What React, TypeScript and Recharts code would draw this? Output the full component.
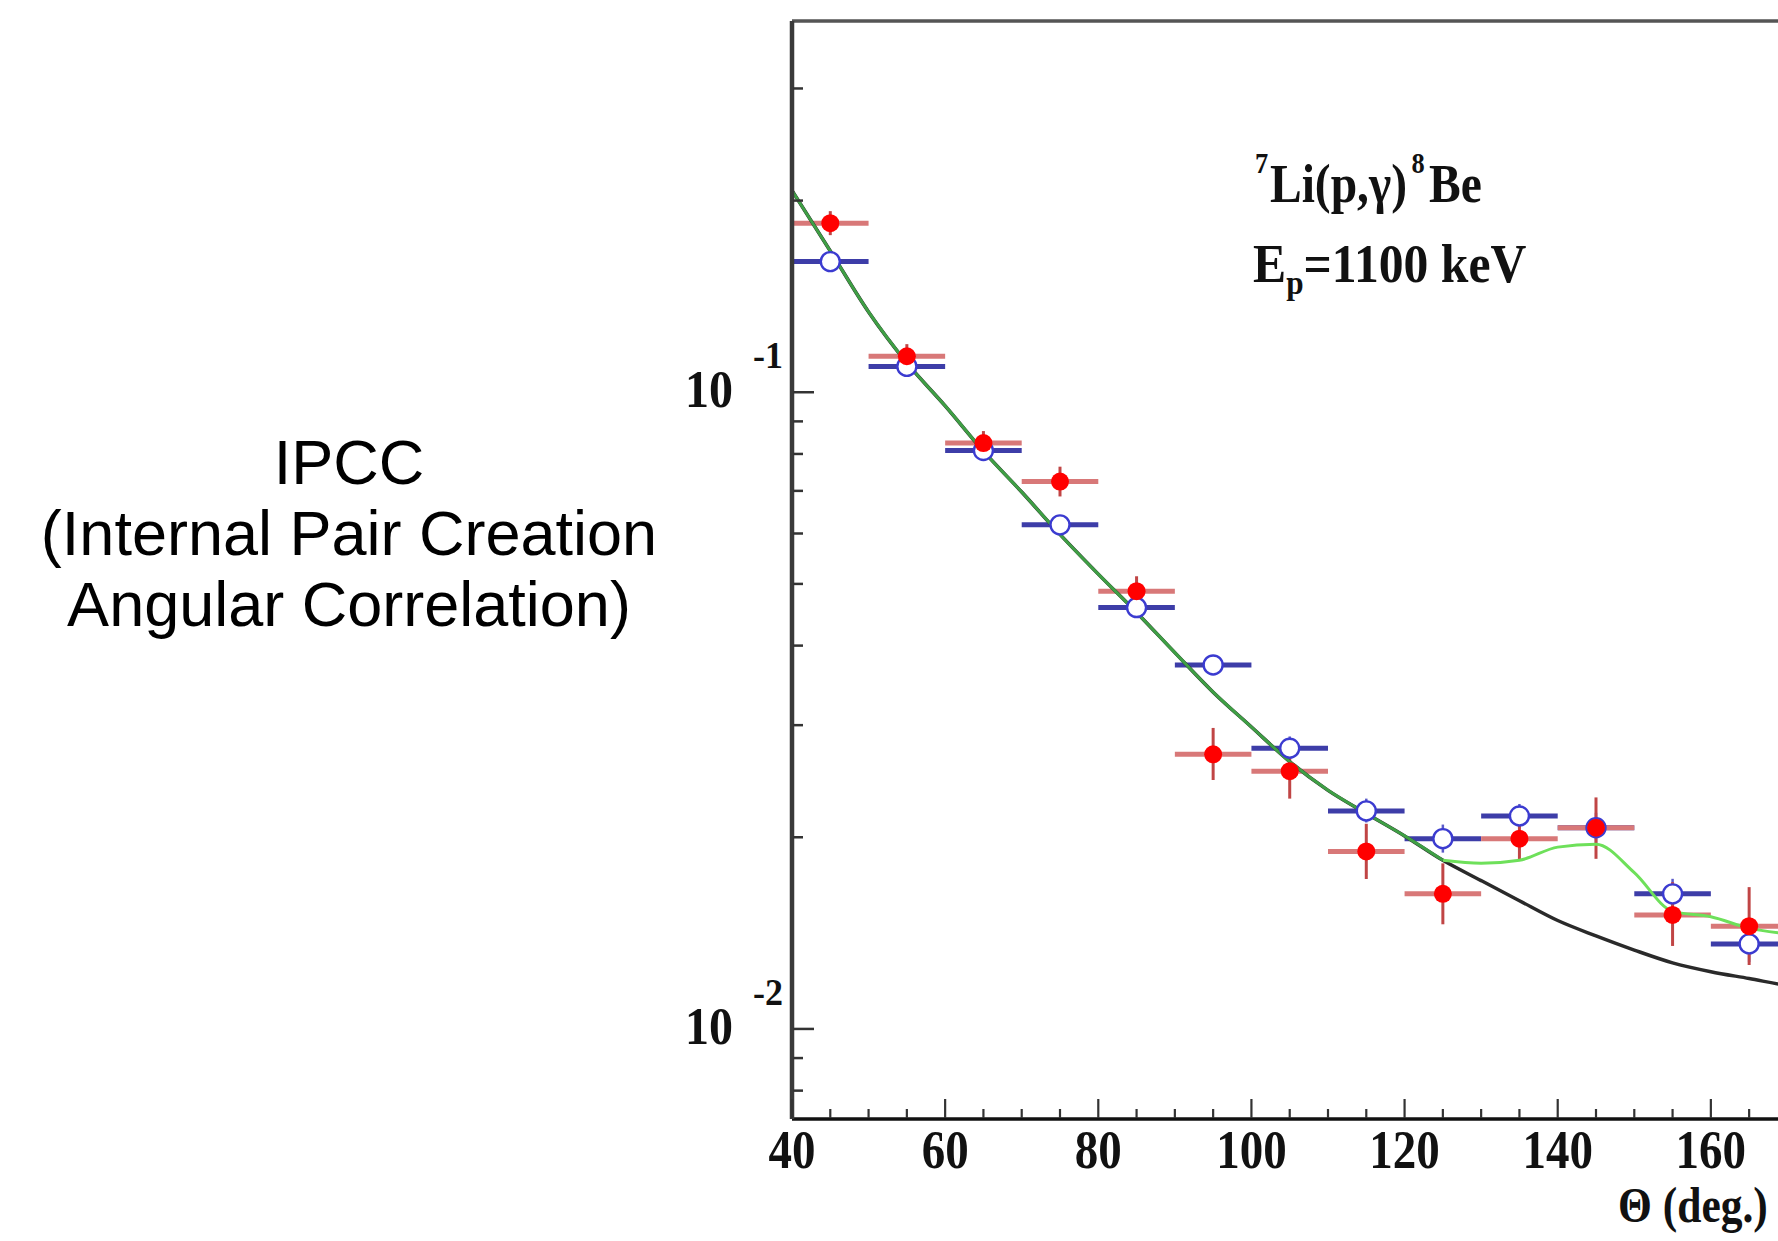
import React from 'react';
import { ComposedChart, Line, Scatter, XAxis, YAxis, ErrorBar } from 'recharts';

// ---- data ----
const thetaBins = [45, 55, 65, 75, 85, 95, 105, 115, 125, 135, 145, 155, 165];
const binHalfWidth = [5, 5, 5, 5, 5, 5, 5, 5, 5, 5, 5, 5, 5];

const redValues = [0.1843, 0.1139, 0.0832, 0.0724, 0.0487, 0.027, 0.0254, 0.019, 0.0163, 0.0199, 0.0207, 0.0151, 0.0145];
const redErrLow = [0.0078, 0.0048, 0.0035, 0.0038, 0.0026, 0.0024, 0.0024, 0.0018, 0.0017, 0.0015, 0.0022, 0.0016, 0.0019];
const redErrHigh = [0.0082, 0.0051, 0.0037, 0.004, 0.0027, 0.0027, 0.0027, 0.002, 0.0019, 0.0016, 0.0024, 0.0019, 0.0022];

const blueValues = [0.1604, 0.1098, 0.081, 0.0619, 0.0459, 0.0373, 0.0276, 0.022, 0.0199, 0.0216, 0.0207, 0.0163, 0.0136];
const blueErrLow = [0.0046, 0.0031, 0.0023, 0.0018, 0.0013, 0.0011, 0.0012, 0.0009, 0.00098, 0.00092, 0.0011, 0.00086, 0.00086];
const blueErrHigh = [0.0047, 0.0032, 0.0024, 0.0018, 0.0013, 0.0011, 0.0012, 0.001, 0.00104, 0.00096, 0.00115, 0.00091, 0.00092];

// E1 internal pair creation (black) curve
const e1Theta = [40, 45, 50, 55, 60, 65, 70, 75, 80, 85, 90, 95, 100, 105, 110, 115, 120, 125, 130, 135, 140, 145, 150, 155, 160, 165, 170, 175, 180];
const e1Values = [0.2074, 0.1667, 0.1337, 0.1112, 0.0952, 0.0808, 0.0697, 0.0598, 0.0518, 0.0451, 0.039, 0.0338, 0.0298, 0.0263, 0.0237, 0.0218, 0.0201, 0.0184, 0.0171, 0.0159, 0.0148, 0.014, 0.0133, 0.0127, 0.0123, 0.012, 0.0117, 0.0115, 0.0114];

// fit with extra component (light green) above 125 deg
const fitTheta = [125, 130, 135, 140, 145, 150, 155, 160, 165, 170, 175, 180];
const fitValues = [0.0184, 0.0182, 0.0184, 0.0193, 0.0195, 0.0176, 0.0153, 0.015, 0.0144, 0.0141, 0.0139, 0.0138];

const xTicks = [40, 45, 50, 55, 60, 65, 70, 75, 80, 85, 90, 95, 100, 105, 110, 115, 120, 125, 130, 135, 140, 145, 150, 155, 160, 165];
const xLabelTicks = [40, 60, 80, 100, 120, 140, 160];
const yTicks = [0.008, 0.009, 0.01, 0.02, 0.03, 0.04, 0.05, 0.06, 0.07, 0.08, 0.09, 0.1, 0.2, 0.3];
const yMajorTicks = [0.01, 0.1];
const yMajorExponents = ['-2', '-1'];

// ---- tables for the library ----
const redData = thetaBins.map((x, i) => ({ x, y: redValues[i], ex: binHalfWidth[i], ey: [redErrLow[i], redErrHigh[i]] }));
const blueData = thetaBins.map((x, i) => ({ x, y: blueValues[i], ex: binHalfWidth[i], ey: [blueErrLow[i], blueErrHigh[i]] }));
const e1Data = e1Theta.map((x, i) => ({ x, y: e1Values[i] }));
const fitLowData = e1Data.filter((d) => d.x <= 125);
const fitHighData = fitTheta.map((x, i) => ({ x, y: fitValues[i] }));

const SERIF = '"Liberation Serif", "Times New Roman", serif';
const SANS = '"Liberation Sans", Arial, sans-serif';

function XTick(props: any) {
  const { x, y, payload } = props;
  const v = payload.value;
  const major = xLabelTicks.includes(v);
  const label = String(v);
  return (
    <g>
      <line x1={x} x2={x} y1={y - 1} y2={y - 1 - (major ? 19 : 9)} stroke="#333" strokeWidth={2.2} />
      {major && (
        <text
          x={x}
          y={y + 49}
          textAnchor="middle"
          fontFamily={SERIF}
          fontWeight="bold"
          fontSize={54}
          fill="#111"
          textLength={label.length * 23.5}
          lengthAdjust="spacingAndGlyphs"
        >
          {label}
        </text>
      )}
    </g>
  );
}

function YTick(props: any) {
  const { x, y, payload } = props;
  const v = payload.value;
  const idx = yMajorTicks.findIndex((t) => Math.abs(t - v) < 1e-9);
  const major = idx >= 0;
  return (
    <g>
      <line x1={x + 1} x2={x + 1 + (major ? 21 : 10)} y1={y} y2={y} stroke="#333" strokeWidth={2.5} />
      {major && (
        <g>
          <text
            x={x - 59}
            y={y + 15}
            textAnchor="end"
            fontFamily={SERIF}
            fontWeight="bold"
            fontSize={52}
            fill="#111"
            textLength={48}
            lengthAdjust="spacingAndGlyphs"
          >
            10
          </text>
          <text
            x={x - 39}
            y={y - 24}
            fontFamily={SERIF}
            fontWeight="bold"
            fontSize={38}
            fill="#111"
            textLength={30}
            lengthAdjust="spacingAndGlyphs"
          >
            {yMajorExponents[idx]}
          </text>
        </g>
      )}
    </g>
  );
}

const RedDot = (p: any) => <circle cx={p.cx} cy={p.cy} r={9} fill="#ff0000" />;
const BlueDot = (p: any) => <circle cx={p.cx} cy={p.cy} r={9.5} fill="#ffffff" stroke="#3b3bd0" strokeWidth={2.4} />;

export default function App() {
  return (
    <div style={{ position: 'absolute', left: 0, top: 0, width: 1778, height: 1241, overflow: 'hidden', background: '#fff' }}>
      <div style={{ position: 'absolute', left: 0, top: 0 }}>
        <ComposedChart width={1900} height={1241} margin={{ top: 20, right: 36, bottom: 121, left: 791 }}>
          <XAxis
            dataKey="x"
            type="number"
            domain={[40, 180]}
            allowDataOverflow
            ticks={xTicks}
            interval={0}
            tickSize={0}
            tickMargin={0}
            tickLine={false}
            height={1}
            axisLine={{ stroke: '#111', strokeWidth: 3.5 }}
            tick={(p: any) => <XTick {...p} />}
          />
          <XAxis
            xAxisId="top"
            orientation="top"
            type="number"
            domain={[40, 180]}
            tick={false}
            tickLine={false}
            height={1}
            axisLine={{ stroke: '#555', strokeWidth: 3.5 }}
          />
          <YAxis
            dataKey="y"
            type="number"
            scale="log"
            domain={[0.00722, 0.3829]}
            allowDataOverflow
            ticks={yTicks}
            interval={0}
            tickSize={0}
            tickMargin={0}
            tickLine={false}
            width={1}
            axisLine={{ stroke: '#3a3a3a', strokeWidth: 4.5 }}
            tick={(p: any) => <YTick {...p} />}
          />
          <Scatter data={blueData} dataKey="y" shape={BlueDot} isAnimationActive={false}>
            <ErrorBar dataKey="ex" direction="x" width={0} stroke="#3d3da8" strokeWidth={5} />
            <ErrorBar dataKey="ey" direction="y" width={0} stroke="#5a5ac8" strokeWidth={2.5} />
          </Scatter>
          <Scatter data={redData} dataKey="y" shape={RedDot} isAnimationActive={false}>
            <ErrorBar dataKey="ex" direction="x" width={0} stroke="#d87878" strokeWidth={5} />
            <ErrorBar dataKey="ey" direction="y" width={0} stroke="#c04545" strokeWidth={3} />
          </Scatter>
          <Line data={e1Data} dataKey="y" type="monotone" stroke="#2a2a2a" strokeWidth={3.5} dot={false} isAnimationActive={false} />
          <Line data={fitHighData} dataKey="y" type="monotone" stroke="#6ee05a" strokeWidth={3} dot={false} isAnimationActive={false} />
          <Line data={fitLowData} dataKey="y" type="monotone" stroke="#3f9f45" strokeWidth={3} dot={false} isAnimationActive={false} />
        </ComposedChart>
      </div>
      <svg width={1778} height={1241} style={{ position: 'absolute', left: 0, top: 0, pointerEvents: 'none' }}>
        <g fontFamily={SANS} fontSize={63} fill="#000" textAnchor="middle">
          <text x={349} y={484}>IPCC</text>
          <text x={349} y={555}>(Internal Pair Creation</text>
          <text x={349} y={626}>Angular Correlation)</text>
        </g>
        <g fontFamily={SERIF} fontWeight="bold" fill="#111">
          <text x={0} y={0} transform="translate(1255,202) scale(0.88,1)">
            <tspan fontSize={30} dy={-29}>7</tspan>
            <tspan fontSize={54} dy={29} dx={2}>Li(p,γ)</tspan>
            <tspan fontSize={30} dy={-29} dx={5}>8</tspan>
            <tspan fontSize={54} dy={29} dx={5}>Be</tspan>
          </text>
          <text x={0} y={0} transform="translate(1253,282) scale(0.92,1)">
            <tspan fontSize={54}>E</tspan>
            <tspan fontSize={34} dy={12}>p</tspan>
            <tspan fontSize={54} dy={-12}>=1100 keV</tspan>
          </text>
          <text x={0} y={0} fontSize={50} transform="translate(1618,1222) scale(0.87,1)">Θ (deg.)</text>
        </g>
      </svg>
    </div>
  );
}
